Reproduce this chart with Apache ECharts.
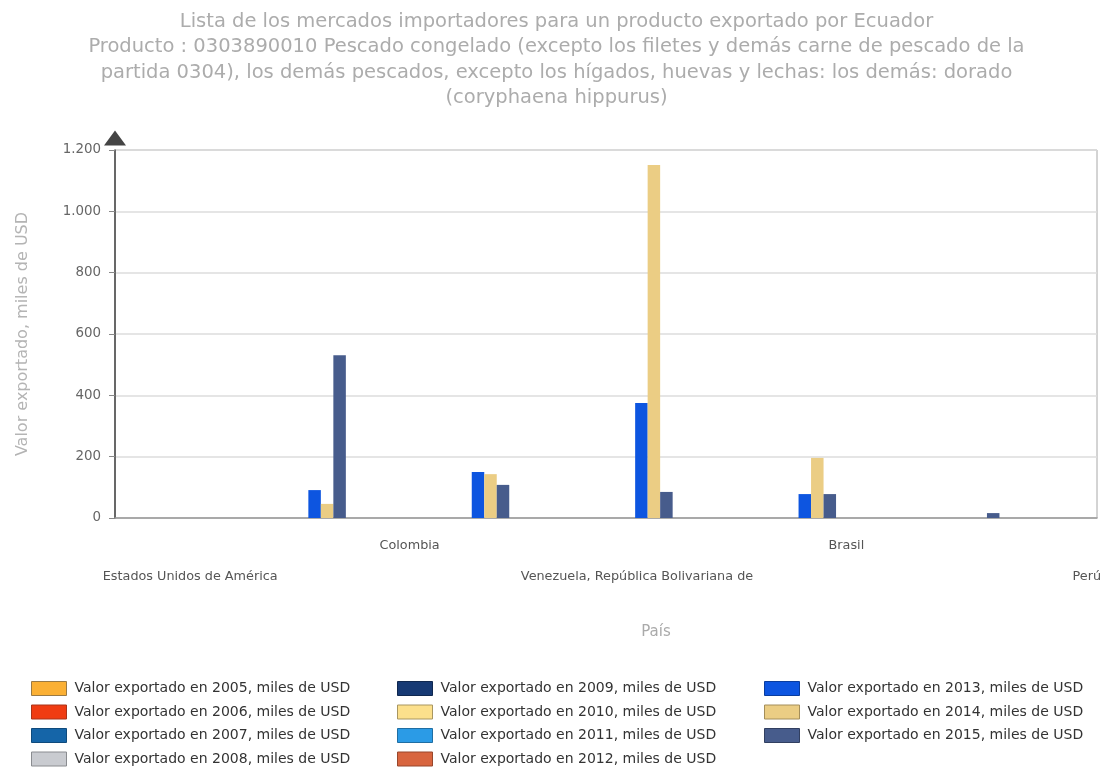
<!DOCTYPE html>
<html style="height: 100%">
<head>
    <meta charset="UTF-8">
    <title>Mercados importadores - dorado</title>
    <script src="https://cdn.jsdelivr.net/npm/echarts@6/dist/echarts.min.js"></script>
    <style>
        body { margin: 0; background: #ffffff; }
        #chart { width: 1113px; height: 767px; }
    </style>
</head>
<body>
    <div id="chart"></div>
    <script>
        // paises, en el orden del grafico
        var paises = ['Estados Unidos de América', 'Colombia', 'Venezuela, República Bolivariana de', 'Brasil', 'Perú'];
        var anios = [2005, 2006, 2007, 2008, 2009, 2010, 2011, 2012, 2013, 2014, 2015];

        // valor exportado, miles de USD (un array por año)
        var v2005 = [0, 0, 0, 0, 0];
        var v2006 = [0, 0, 0, 0, 0];
        var v2007 = [0, 0, 0, 0, 0];
        var v2008 = [0, 0, 0, 0, 0];
        var v2009 = [0, 0, 0, 0, 0];
        var v2010 = [0, 0, 0, 0, 0];
        var v2011 = [0, 0, 0, 0, 0];
        var v2012 = [0, 0, 0, 0, 0];
        var v2013 = [91, 150, 375, 78, 0];
        var v2014 = [46, 143, 1151, 196, 0];
        var v2015 = [531, 108, 85, 78, 16];

        var valores = [v2005, v2006, v2007, v2008, v2009, v2010, v2011, v2012, v2013, v2014, v2015];

        // colores de cada año
        var colores = ['#FBB034', '#F03C12', '#1565A8', '#C9CBD0', '#173A74', '#FCE08C',
                       '#2B9BE6', '#D8653F', '#0D55E0', '#EBCD84', '#475C8C'];
        var bordes = ['#9A7A45', '#A8341A', '#0F4A7C', '#8A8C90', '#10284F', '#A89660',
                      '#1F6EA3', '#98472C', '#0A3D9E', '#A48E5A', '#313F60'];

        var titulo = 'Lista de los mercados importadores para un producto exportado por Ecuador\n' +
            'Producto : 0303890010 Pescado congelado (excepto los filetes y demás carne de pescado de la\n' +
            'partida 0304), los demás pescados, excepto los hígados, huevas y lechas: los demás: dorado\n' +
            '(coryphaena hippurus)';

        function nombreSerie(a) {
            return 'Valor exportado en ' + a + ', miles de USD';
        }

        function miles(v) {
            return String(v).replace(/\B(?=(\d{3})+(?!\d))/g, '.');
        }

        var etiqueta = { fontFamily: 'DejaVu Sans', fontSize: 12.8, color: '#555', lineHeight: 31 };

        var series = anios.map(function (a, i) {
            return {
                name: nombreSerie(a),
                type: 'bar',
                xAxisIndex: 1,
                yAxisIndex: 1,
                barWidth: 12.5,
                barGap: '0%',
                data: valores[i],
                itemStyle: { color: colores[i], borderColor: bordes[i], borderWidth: 0 }
            };
        });

        function leyenda(izq, desde, hasta) {
            return {
                orient: 'vertical',
                left: izq,
                top: 681,
                padding: 0,
                itemWidth: 35,
                itemHeight: 14,
                itemGap: 8.5,
                icon: 'rect',
                selectedMode: false,
                itemStyle: { borderWidth: 1 },
                textStyle: { fontFamily: 'DejaVu Sans', fontSize: 14, color: '#333', lineHeight: 14, padding: [0, 0, 0, 3] },
                data: anios.slice(desde, hasta).map(nombreSerie)
            };
        }

        var option = {
            animation: false,
            backgroundColor: '#ffffff',
            title: {
                text: titulo,
                left: 'center',
                top: 4,
                textStyle: {
                    fontFamily: 'DejaVu Sans',
                    fontSize: 19.5,
                    fontWeight: 'normal',
                    color: '#acacac',
                    lineHeight: 25.5
                }
            },
            legend: [leyenda(31, 0, 4), leyenda(397, 4, 8), leyenda(764, 8, 11)],
            grid: [
                { left: 115, right: 16, top: 150, bottom: 249, show: true, borderColor: '#a8a8a8', borderWidth: 1 },
                { left: 195.4, right: 100.6, top: 150, bottom: 249 }
            ],
            xAxis: [
                {
                    type: 'category',
                    gridIndex: 0,
                    data: paises,
                    axisLine: { lineStyle: { color: '#999', width: 1.5 } },
                    axisTick: { show: false },
                    axisLabel: {
                        interval: 0,
                        margin: 12,
                        fontFamily: 'DejaVu Sans',
                        fontSize: 12.8,
                        color: '#555',
                        lineHeight: 31,
                        formatter: function (v, i) {
                            var t = '{r' + i + '|' + v + '}';
                            return i % 2 === 0 ? '\n' + t : t;
                        },
                        rich: {
                            r0: Object.assign({ padding: [0, 46, 0, 0] }, etiqueta),
                            r1: Object.assign({}, etiqueta),
                            r2: Object.assign({ padding: [0, 0, 0, 62] }, etiqueta),
                            r3: Object.assign({ padding: [0, 0, 0, 88] }, etiqueta),
                            r4: Object.assign({ padding: [0, 0, 0, 176] }, etiqueta)
                        }
                    },
                    name: 'País',
                    nameLocation: 'middle',
                    nameGap: 107,
                    nameTextStyle: { fontFamily: 'DejaVu Sans', fontSize: 15, color: '#aaa', padding: [0, 0, 0, 100] }
                },
                { type: 'category', gridIndex: 1, data: paises, show: false }
            ],
            yAxis: [
                {
                    type: 'value',
                    gridIndex: 0,
                    min: 0,
                    max: 1200,
                    interval: 200,
                    axisLine: {
                        show: true,
                        lineStyle: { color: '#444', width: 1.5 },
                        symbol: ['none', 'triangle'],
                        symbolSize: [22, 15],
                        symbolOffset: [0, 12]
                    },
                    axisTick: { show: true, inside: false, length: 6, lineStyle: { color: '#888' } },
                    axisLabel: {
                        margin: 14,
                        fontFamily: 'DejaVu Sans',
                        fontSize: 13.4,
                        color: '#666',
                        formatter: miles
                    },
                    splitLine: { lineStyle: { color: '#dcdcdc', width: 1.5 } },
                    name: 'Valor exportado, miles de USD',
                    nameLocation: 'middle',
                    nameGap: 84,
                    nameTextStyle: { fontFamily: 'DejaVu Sans', fontSize: 16, color: '#b4b4b4' }
                },
                { type: 'value', gridIndex: 1, min: 0, max: 1200, show: false, splitLine: { show: false } }
            ],
            series: series
        };

        var chart = echarts.init(document.getElementById('chart'));
        chart.setOption(option);
    </script>
</body>
</html>
